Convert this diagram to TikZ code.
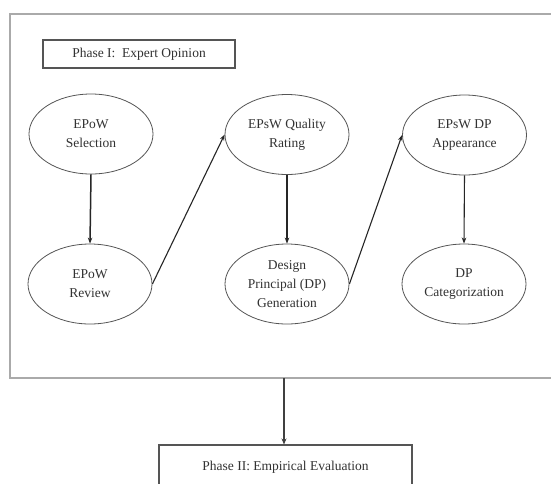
\documentclass[tikz,border=0pt]{standalone}
\usepackage{fontspec}
\setmainfont{Liberation Serif}
\usetikzlibrary{shapes.geometric,arrows.meta}
\definecolor{framegray}{RGB}{170,170,170}
\definecolor{linegray}{RGB}{85,85,85}
\definecolor{txtgray}{RGB}{50,50,50}
\begin{document}
\begin{tikzpicture}[x=1pt,y=-1pt,
  every node/.style={font=\fontsize{13.5}{19}\selectfont, text=txtgray},
  phase/.style={draw=linegray, line width=1.1pt, rectangle, inner sep=0pt},
  oval/.style={draw=linegray, line width=0.8pt, ellipse, minimum width=124pt, minimum height=80pt, inner sep=0pt, align=center},
  flow/.style={draw=black!85, line width=1.1pt, -{Stealth[length=6pt,width=4.5pt]}},
  bigflow/.style={draw=black!75, line width=2.2pt, -{Stealth[length=6pt,width=5pt]}}]
\useasboundingbox (0,0) rectangle (551,483);
\clip (0,0) rectangle (551,483);
\fill[white] (0,0) rectangle (551,483);
% outer frame (open on the right)
\draw[framegray, line width=2.6pt] (560,14) -- (10,14) -- (10,378) -- (560,378);
\coordinate (fb) at (284,378);
% phase boxes
\node[phase, minimum width=192pt, minimum height=28pt] (p1) at (139,54) {Phase I:\ \ Expert Opinion};
\node[phase, minimum width=253pt, minimum height=44pt] (p2) at (285.5,467) {Phase II: Empirical Evaluation};
% ellipses
\node[oval] (sel) at (91,134) {EPoW\\Selection};
\node[oval] (qual) at (287,134.5) {EPsW Quality\\Rating};
\node[oval] (app) at (464.5,135) {EPsW DP\\Appearance};
\node[oval] (rev) at (90,284) {EPoW\\Review};
\node[oval] (gen) at (287,284) {Design\\Principal (DP)\\Generation};
\node[oval] (cat) at (464,284) {DP\\Categorization};
% connectors
\draw[flow, line width=1.5pt] (sel.south) -- (rev.north);
\draw[flow] (rev.east) -- (qual.west);
\draw[flow] (qual.south) -- (gen.north);
\draw[flow] (gen.east) -- (app.west);
\draw[flow] (app.south) -- (cat.north);
\draw[bigflow] (fb) -- (p2.north -| fb);
\end{tikzpicture}
\end{document}
